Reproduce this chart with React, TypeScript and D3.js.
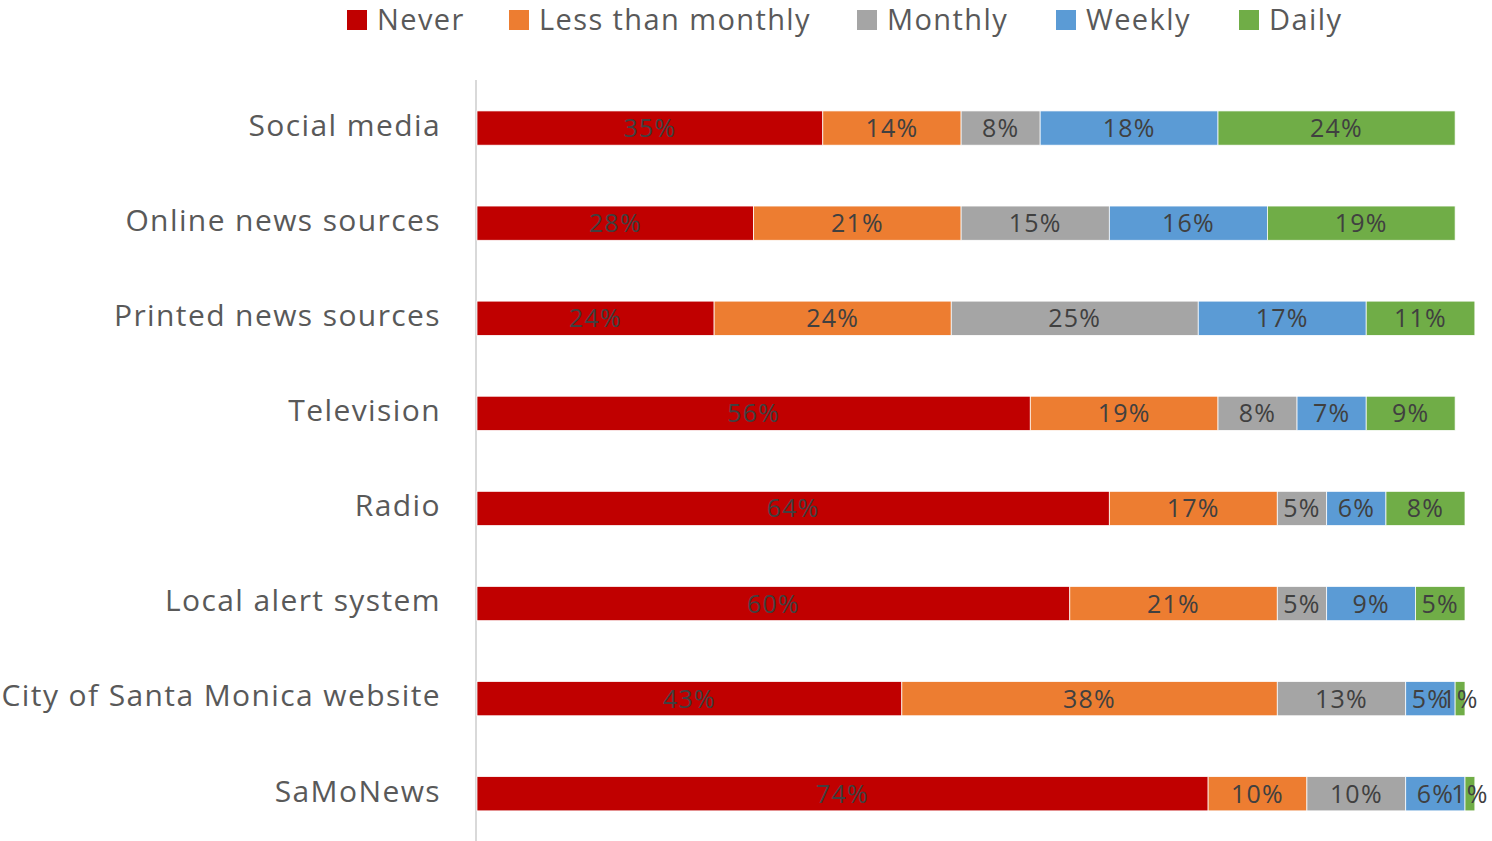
import React from "react";
import * as d3 from "d3";

const categories = [
  "Social media",
  "Online news sources",
  "Printed news sources",
  "Television",
  "Radio",
  "Local alert system",
  "City of Santa Monica website",
  "SaMoNews",
];

const seriesNames = ["Never", "Less than monthly", "Monthly", "Weekly", "Daily"];
const seriesColors = ["#C00000", "#ED7D31", "#A5A5A5", "#5B9BD5", "#70AD47"];

const never = [35, 28, 24, 56, 64, 60, 43, 74];
const lessThanMonthly = [14, 21, 24, 19, 17, 21, 38, 10];
const monthly = [8, 15, 25, 8, 5, 5, 13, 10];
const weekly = [18, 16, 17, 7, 6, 9, 5, 6];
const daily = [24, 19, 11, 9, 8, 5, 1, 1];

const seriesValues = [never, lessThanMonthly, monthly, weekly, daily];

// legend item x positions (square left edge)
const legendX = [347, 509, 857, 1056, 1239];

const W = 1492;
const H = 841;
const FONT = "'Open Sans', 'Noto Sans', sans-serif";

export default function App() {
  const x = d3.scaleLinear().domain([0, 100]).range([477, 1465]);
  const y = d3
    .scaleBand<string>()
    .domain(categories)
    .range([80.5, 841.3])
    .paddingInner(0.64)
    .paddingOuter(0.32);

  const rows = categories.map((c, i) => {
    const vals = seriesValues.map((s) => s[i]);
    const ends = d3.cumsum(vals);
    return { c, segs: vals.map((v, k) => ({ v, k, x0: ends[k] - v, x1: ends[k] })) };
  });

  return (
    <svg
      width={W}
      height={H}
      style={{ position: "absolute", left: 0, top: 0, background: "#fff" }}
      fontFamily={FONT}
    >
      {/* legend */}
      {seriesNames.map((n, k) => (
        <g key={n} transform={`translate(${legendX[k]},0)`}>
          <rect x={0} y={10} width={20} height={20} fill={seriesColors[k]} />
          <text x={30} y={20} dy="0.36em" fontSize={29} letterSpacing={1.4} fill="#595959">
            {n}
          </text>
        </g>
      ))}

      {/* vertical axis line */}
      <line x1={476} x2={476} y1={80} y2={H} stroke="#D9D9D9" strokeWidth={2} />

      {rows.map((r) => {
        const by = y(r.c)!;
        const bh = y.bandwidth();
        return (
          <g key={r.c}>
            <text
              x={441}
              y={by + bh / 2 - 3}
              dy="0.36em"
              textAnchor="end"
              fontSize={30}
              letterSpacing={1.4}
              fill="#595959"
            >
              {r.c}
            </text>
            {r.segs.map((s) => (
              <rect
                key={s.k}
                x={x(s.x0)}
                y={by}
                width={x(s.x1) - x(s.x0)}
                height={bh}
                fill={seriesColors[s.k]}
                stroke="#fff"
                strokeWidth={0.75}
              />
            ))}
            {r.segs.map((s) => (
              <text
                key={"l" + s.k}
                x={(x(s.x0) + x(s.x1)) / 2}
                y={by + bh / 2}
                dy="0.36em"
                textAnchor="middle"
                fontSize={25}
                letterSpacing={1.2}
                fill="#404040"
              >
                {s.v}%
              </text>
            ))}
          </g>
        );
      })}
    </svg>
  );
}
